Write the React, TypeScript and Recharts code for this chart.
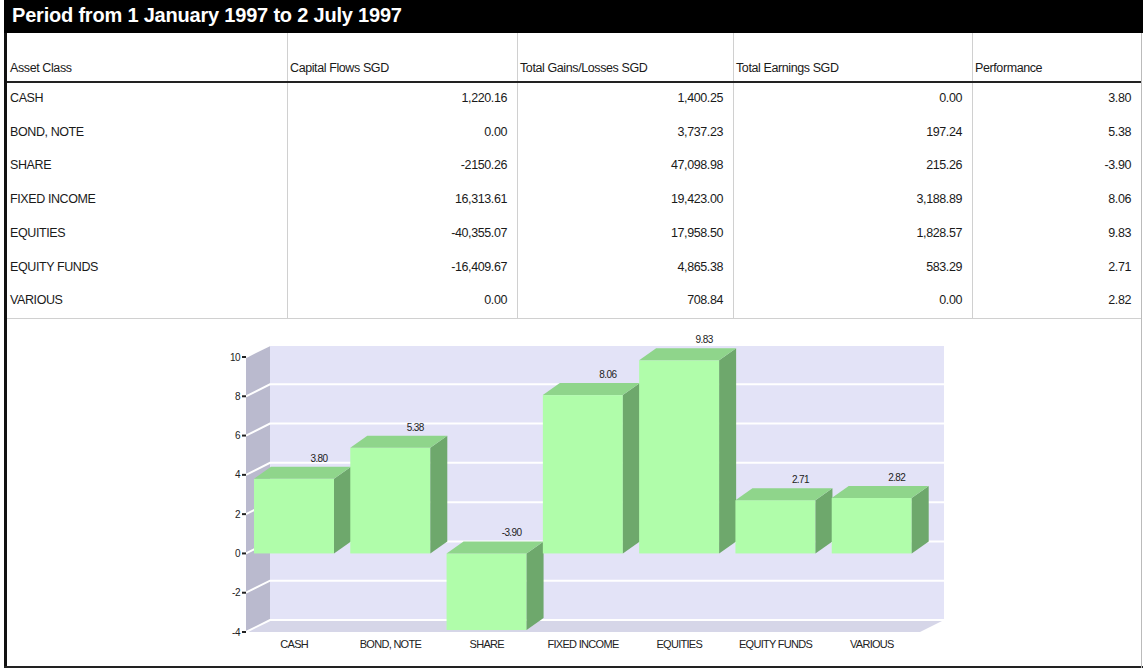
import { BarChart, Bar, XAxis, YAxis, CartesianGrid, LabelList } from 'recharts';

const assetClasses = ['CASH', 'BOND, NOTE', 'SHARE', 'FIXED INCOME', 'EQUITIES', 'EQUITY FUNDS', 'VARIOUS'];
const capitalFlows = ['1,220.16', '0.00', '-2150.26', '16,313.61', '-40,355.07', '-16,409.67', '0.00'];
const totalGains = ['1,400.25', '3,737.23', '47,098.98', '19,423.00', '17,958.50', '4,865.38', '708.84'];
const totalEarnings = ['0.00', '197.24', '215.26', '3,188.89', '1,828.57', '583.29', '0.00'];
const performance = [3.8, 5.38, -3.9, 8.06, 9.83, 2.71, 2.82];
const headers = ['Asset Class', 'Capital Flows SGD', 'Total Gains/Losses SGD', 'Total Earnings SGD', 'Performance'];
const yTicks = [-4, -2, 0, 2, 4, 6, 8, 10];

const data = assetClasses.map((name, i) => ({ name, perf: performance[i] }));

// depth of the walls and of the boxes
const WDX = 24;
const WDY = 12;
const BDX = 17;
const BDY = 12;

const colLeft = [7, 287, 517, 733, 972];
const colWidth = [280, 230, 216, 239, 169];

const font = '"Liberation Sans", Arial, sans-serif';

const gridLine = (props) => {
  const { x, y, width, height, y1, index } = props;
  const walls =
    index === 0 ? (
      <g>
        <rect x={x + WDX} y={y - WDY} width={width} height={height} fill="#e3e3f7" />
        <polygon
          points={`${x},${y} ${x + WDX},${y - WDY} ${x + WDX},${y + height - WDY} ${x},${y + height}`}
          fill="#babace"
        />
        <polygon
          points={`${x},${y + height} ${x + WDX},${y + height - WDY} ${x + width + WDX},${y + height - WDY} ${x + width},${y + height}`}
          fill="#d6d6e8"
        />
      </g>
    ) : null;
  return (
    <g key={`gl-${index}`}>
      {walls}
      <polyline
        points={`${x},${y1} ${x + WDX},${y1 - WDY} ${x + width + WDX},${y1 - WDY}`}
        fill="none"
        stroke="#ffffff"
        strokeWidth={2}
      />
    </g>
  );
};

const Box = (props) => {
  const { x, y, width, height } = props;
  const top = Math.min(y, y + height);
  const bottom = Math.max(y, y + height);
  const r = x + width;
  return (
    <g>
      <rect x={x} y={top} width={width} height={bottom - top} fill="#b0fdaa" />
      <polygon
        points={`${r},${top} ${r + BDX},${top - BDY} ${r + BDX},${bottom - BDY} ${r},${bottom}`}
        fill="#6ea86c"
      />
      <polygon
        points={`${x},${top} ${x + BDX},${top - BDY} ${r + BDX},${top - BDY} ${r},${top}`}
        fill="#8fd58b"
      />
    </g>
  );
};

const ValueLabel = (props) => {
  const { x, y, width, height, value } = props;
  const top = Math.min(y, y + height);
  return (
    <text
      x={x + width / 2 + 25}
      y={top - 17}
      textAnchor="middle"
      fontSize={10}
      fontFamily={font}
      fill="#222"
      letterSpacing={-0.6}
    >
      {Number(value).toFixed(2)}
    </text>
  );
};

const cellText = {
  position: 'absolute',
  fontSize: 12.5,
  letterSpacing: -0.4,
  color: '#1a1a1a',
  whiteSpace: 'nowrap',
};

export default function App() {
  const rows = assetClasses.map((name, i) => [
    name,
    capitalFlows[i],
    totalGains[i],
    totalEarnings[i],
    performance[i].toFixed(2),
  ]);
  const rowH = 33.7;
  return (
    <div
      style={{
        position: 'absolute',
        left: 0,
        top: 0,
        width: 1143,
        height: 671,
        background: '#fff',
        fontFamily: font,
        overflow: 'hidden',
      }}
    >
      <div style={{ position: 'absolute', left: 4, top: 0, width: 3, height: 668, background: '#111' }} />
      <div style={{ position: 'absolute', left: 4, top: 666, width: 1139, height: 2, background: '#222' }} />
      <div style={{ position: 'absolute', left: 1141, top: 0, width: 1, height: 668, background: '#bbb' }} />
      <div
        style={{
          position: 'absolute',
          left: 4,
          top: 0,
          width: 1139,
          height: 33,
          background: '#000',
          color: '#fff',
          fontWeight: 'bold',
          fontSize: 20,
          letterSpacing: -0.2,
          lineHeight: '31px',
          paddingLeft: 8,
          boxSizing: 'border-box',
        }}
      >
        Period from 1 January 1997 to 2 July 1997
      </div>
      {colLeft.slice(1).map((l) => (
        <div key={l} style={{ position: 'absolute', left: l, top: 33, width: 1, height: 285, background: '#d0d0d0' }} />
      ))}
      <div style={{ position: 'absolute', left: 7, top: 81, width: 1134, height: 2, background: '#222' }} />
      <div style={{ position: 'absolute', left: 7, top: 318, width: 1134, height: 1, background: '#d0d0d0' }} />
      {headers.map((h, c) => (
        <div key={h} style={{ ...cellText, left: colLeft[c] + 3, top: 61 }}>
          {h}
        </div>
      ))}
      {rows.map((r, i) =>
        r.map((t, c) =>
          c === 0 ? (
            <div key={`${i}-${c}`} style={{ ...cellText, left: colLeft[c] + 3, top: 83 + i * rowH + 8 }}>
              {t}
            </div>
          ) : (
            <div
              key={`${i}-${c}`}
              style={{
                ...cellText,
                left: colLeft[c],
                width: colWidth[c] - 10,
                textAlign: 'right',
                top: 83 + i * rowH + 8,
              }}
            >
              {t}
            </div>
          )
        )
      )}
      <div style={{ position: 'absolute', left: 0, top: 318 }}>
        <BarChart
          width={1143}
          height={349}
          data={data}
          margin={{ top: 39, right: 223, bottom: 5, left: 206 }}
          barSize={80}
        >
          <CartesianGrid vertical={false} horizontal={gridLine} fill="none" />
          <XAxis
            dataKey="name"
            axisLine={false}
            tickLine={false}
            tickSize={0}
            tickMargin={8}
            height={30}
            interval={0}
            tick={{ fontSize: 11, fill: '#222', fontFamily: font, letterSpacing: -0.7 }}
          />
          <YAxis
            domain={[-4, 10]}
            ticks={yTicks}
            width={40}
            axisLine={false}
            tickSize={4}
            tickMargin={2}
            tickLine={{ stroke: '#222', strokeWidth: 2 }}
            tick={{ fontSize: 10, fill: '#222', fontFamily: font, letterSpacing: -0.5 }}
          />
          <Bar dataKey="perf" shape={<Box />} isAnimationActive={false}>
            <LabelList dataKey="perf" content={<ValueLabel />} />
          </Bar>
        </BarChart>
      </div>
    </div>
  );
}
